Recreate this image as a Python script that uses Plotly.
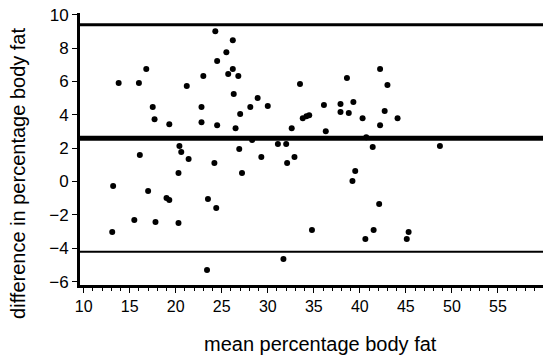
import plotly.graph_objects as go

mean_fat = [24.3, 26.2, 25.5, 24.5, 26.2, 25.7, 16.8, 13.8, 16.0, 21.2,
            23.0, 26.3, 17.5, 22.8, 17.7, 19.3, 22.8, 24.5, 26.5, 20.4,
            26.8, 28.9, 28.1, 30.0, 27.0, 33.5, 32.6, 33.8, 34.2, 34.5,
            36.1, 36.3, 38.6, 37.9, 39.3, 37.9, 38.8, 40.3, 42.2, 43.0,
            42.7, 42.2, 40.7, 31.1, 32.0, 26.9, 28.3, 41.4, 44.1, 48.7,
            20.6, 16.1, 21.4, 24.2, 20.3, 13.2, 17.0, 19.0, 19.3, 23.5,
            24.4, 15.5, 17.8, 20.3, 13.1, 23.4, 29.3, 32.1, 32.9, 27.2,
            39.5, 39.2, 42.1, 34.8, 41.5, 40.6, 31.7, 45.3, 45.1]
diff_fat = [9.01, 8.47, 7.75, 7.22, 6.74, 6.44, 6.74, 5.90, 5.90, 5.72,
            6.32, 5.24, 4.46, 4.46, 3.74, 3.44, 3.56, 3.38, 3.20, 2.13,
            6.32, 5.00, 4.46, 4.52, 4.04, 5.84, 3.20, 3.80, 3.92, 3.98,
            4.58, 3.02, 6.20, 4.64, 4.76, 4.16, 4.10, 3.80, 6.74, 5.78,
            4.22, 3.38, 2.66, 2.25, 2.25, 1.95, 2.49, 2.07, 3.80, 2.13,
            1.77, 1.59, 1.35, 1.11, 0.51, -0.27, -0.57, -0.99, -1.11, -1.05,
            -1.59, -2.31, -2.43, -2.49, -3.02, -5.30, 1.47, 1.11, 1.47, 0.51,
            0.63, 0.03, -1.35, -2.90, -2.90, -3.44, -4.64, -3.02, -3.44]

mean_diff = 2.6
upper_limit = 9.4
lower_limit = -4.2

x_ticks = [10, 15, 20, 25, 30, 35, 40, 45, 50, 55]
y_ticks = [-6, -4, -2, 0, 2, 4, 6, 8, 10]
x_title = "mean percentage body fat"
y_title = "difference in percentage body fat"

font = "Liberation Sans, Arial, Helvetica, sans-serif"

fig = go.Figure()
fig.add_trace(go.Scatter(
    x=mean_fat, y=diff_fat, mode="markers",
    marker=dict(color="black", size=6, line=dict(width=0)),
    showlegend=False, cliponaxis=False,
))

for val, w in [(upper_limit, 3), (mean_diff, 5), (lower_limit, 2)]:
    fig.add_shape(type="line", xref="paper", yref="y", x0=0, x1=1,
                  y0=val, y1=val, line=dict(color="black", width=w), layer="below")

fig.add_annotation(text=x_title, xref="paper", yref="paper", x=0.52, y=-0.217,
                   xanchor="center", yanchor="middle", showarrow=False,
                   font=dict(size=20, family=font, color="black"))
fig.add_annotation(text=y_title, xref="paper", yref="paper", x=-0.133, y=0.41,
                   xanchor="center", yanchor="middle", showarrow=False, textangle=-90,
                   font=dict(size=20, family=font, color="black"))

fig.update_layout(
    width=550, height=361,
    margin=dict(l=80, r=7, t=13, b=76),
    paper_bgcolor="white", plot_bgcolor="white",
    font=dict(family=font, color="black"),
)
fig.update_xaxes(
    range=[9.6, 59.9], tickvals=x_ticks, ticktext=[str(t) for t in x_ticks],
    automargin=False, ticklabeloverflow="allow",
    showgrid=False, zeroline=False, showline=True, linecolor="black", linewidth=3,
    ticks="outside", ticklen=5, tickwidth=1, tickcolor="black",
    minor=dict(dtick=1, ticks="outside", ticklen=3, tickcolor="black", tickwidth=1),
    tickfont=dict(size=16, family=font),
)
fig.update_yaxes(
    range=[-6.2, 10.1], tickvals=y_ticks,
    automargin=False, ticklabeloverflow="allow",
    showgrid=False, zeroline=False, showline=True, linecolor="black", linewidth=3,
    ticks="outside", ticklen=5, tickwidth=1, tickcolor="black",
    tickfont=dict(size=17, family=font),
)

# remove the browser's default 8px body margin so the figure fills the window
fig.write_html("out.html", config={"displayModeBar": False},
               post_script="document.body.style.margin='0';")
